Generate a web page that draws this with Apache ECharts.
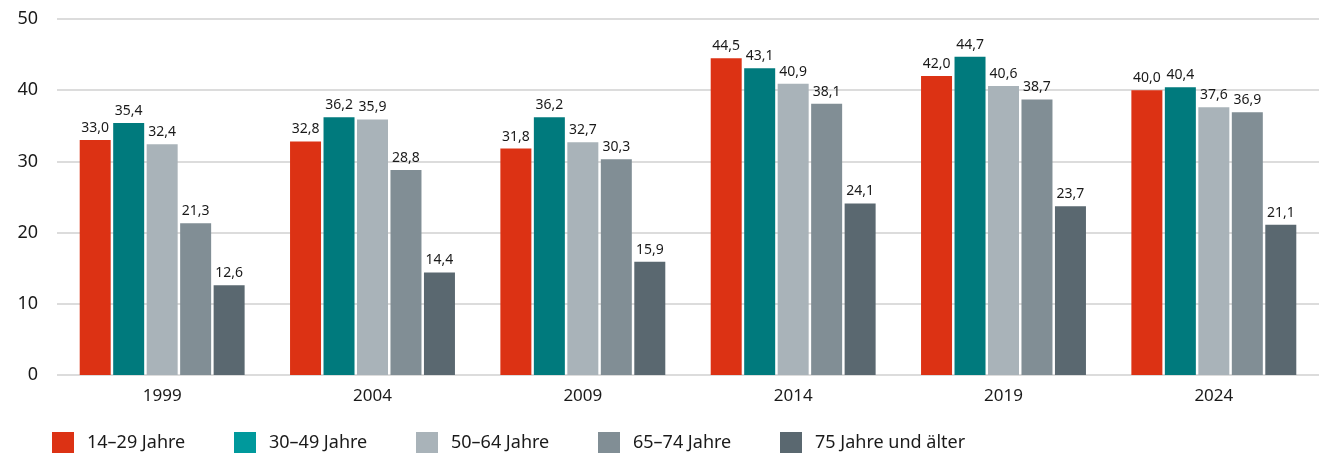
<!DOCTYPE html>
<html>
<head>
<meta charset="utf-8">
<script src="https://cdn.jsdelivr.net/npm/echarts@6/dist/echarts.min.js"></script>
<style>
  html, body { margin: 0; padding: 0; background: #fff; }
  #chart { width: 1319px; height: 453px; }
</style>
</head>
<body>
<div id="chart"></div>
<script>
// Jahre
const years = ['1999', '2004', '2009', '2014', '2019', '2024'];
// Altersgruppen
const groups = ['14–29 Jahre', '30–49 Jahre', '50–64 Jahre', '65–74 Jahre', '75 Jahre und älter'];
const v14_29 = [33.0, 32.8, 31.8, 44.5, 42.0, 40.0];
const v30_49 = [35.4, 36.2, 36.2, 43.1, 44.7, 40.4];
const v50_64 = [32.4, 35.9, 32.7, 40.9, 40.6, 37.6];
const v65_74 = [21.3, 28.8, 30.3, 38.1, 38.7, 36.9];
const v75 = [12.6, 14.4, 15.9, 24.1, 23.7, 21.1];
const yTicks = [0, 10, 20, 30, 40, 50];

const barColors = ['#dc3214', '#007a7d', '#a9b3b9', '#818e95', '#5a6870'];
const legendColors = ['#dc3214', '#00999c', '#a9b3b9', '#818e95', '#5a6870'];
const values = [v14_29, v30_49, v50_64, v65_74, v75];

const font = '"Noto Sans", sans-serif';
const chart = echarts.init(document.getElementById('chart'));

const series = groups.map((name, i) => ({
  name: name,
  type: 'bar',
  data: values[i],
  barWidth: 31,
  barGap: '8%',
  itemStyle: { color: barColors[i] },
  label: {
    show: true,
    position: 'top',
    distance: 5,
    color: '#1a1a1a',
    fontFamily: font,
    fontSize: 14,
    formatter: p => p.value.toFixed(1).replace('.', ',')
  }
}));

// eine Legende je Altersgruppe, damit die Abstände gleich bleiben
const legends = groups.map((g, i) => ({
  left: 47 + i * 182,
  top: 427,
  itemWidth: 22,
  itemHeight: 22,
  icon: 'rect',
  formatter: name => '{a|' + name + '}',
  textStyle: {
    fontFamily: font, fontSize: 18, color: '#1a1a1a',
    rich: { a: { fontFamily: font, fontSize: 18, color: '#1a1a1a', padding: [0, 0, 0, 8] } }
  },
  data: [{ name: g, itemStyle: { color: legendColors[i] } }]
}));

chart.setOption({
  animation: false,
  grid: { left: 57, right: 0, top: 19, bottom: 78 },
  legend: legends,
  xAxis: {
    type: 'category',
    data: years,
    axisLine: { show: false },
    axisTick: { show: false },
    axisLabel: { fontFamily: font, fontSize: 17, color: '#1a1a1a', margin: 13 }
  },
  yAxis: {
    type: 'value',
    min: yTicks[0],
    max: yTicks[yTicks.length - 1],
    interval: 10,
    axisLabel: { fontFamily: font, fontSize: 18, color: '#1a1a1a', margin: 19 },
    splitLine: { lineStyle: { color: '#dcdcdc', width: 2 } }
  },
  series: series
});
</script>
</body>
</html>
